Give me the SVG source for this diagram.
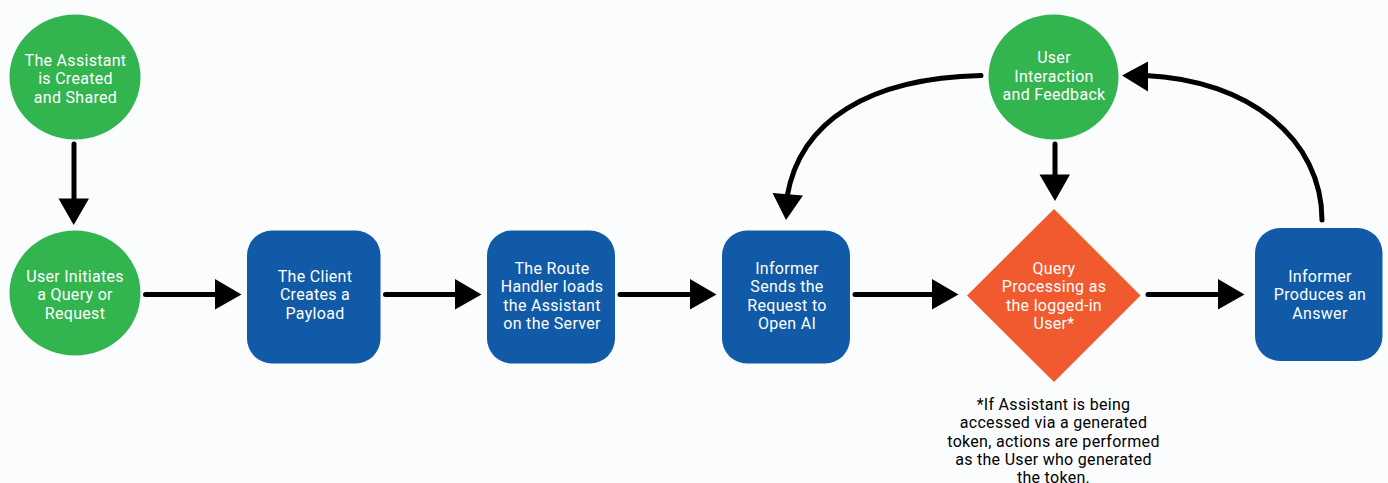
<svg xmlns="http://www.w3.org/2000/svg" width="1388" height="483" viewBox="0 0 1388 483">
<style>
.g{fill:#32b44f}.b{fill:#105aa8}.o{fill:#f15a2e}
text{font-family:Roboto,"Liberation Sans",sans-serif;font-size:16px;letter-spacing:.3px;text-anchor:middle;fill:#fff}
text.n{fill:#000}
.c{fill:none;stroke:#000;stroke-width:5;stroke-linecap:round}
</style>
<rect width="1388" height="483" fill="#fbfcfe"/>
<g id="connectors">
<path class="c" d="M74 144V200"/>
<path d="M58.500 198.500H89L73.700 225Z"/>
<path class="c" d="M145.500 294.500H218"/>
<path d="M215 279V309.500L241.500 294.500Z"/>
<path class="c" d="M385.500 294.500H458"/>
<path d="M455 279V309.500L481.500 294.500Z"/>
<path class="c" d="M620 294.500H693"/>
<path d="M690 279V309.500L716.500 294.500Z"/>
<path class="c" d="M855 294.500H936"/>
<path d="M932 279V309.500L958.500 294.500Z"/>
<path class="c" d="M1148 294.500H1222"/>
<path d="M1218 279V309.500L1244.500 294.500Z"/>
<path class="c" d="M1055 144V178"/>
<path d="M1039.500 174.500H1070L1055 201Z"/>
<path class="c" d="M981 75.500C870 78 800 120 787 197"/>
<path d="M772.500 193L803 195.500L786 220Z"/>
<path class="c" d="M1322 220C1322 140 1250 80 1145 75.500"/>
<path d="M1148 61.500V91.500L1122 75.500Z"/>
</g>
<g id="n1"><ellipse class="g" cx="75" cy="77" rx="65.500" ry="62.500"/><text x="75.500" y="65.500">The Assistant</text><text x="75.500" y="84">is Created</text><text x="75.500" y="102.500">and Shared</text></g>
<g id="n2"><ellipse class="g" cx="75" cy="293" rx="65.500" ry="62.500"/><text x="75" y="281.500">User Initiates</text><text x="75" y="300">a Query or</text><text x="75" y="318.500">Request</text></g>
<g id="n3"><rect class="b" x="247" y="230.500" width="133.500" height="133" rx="25"/><text x="315" y="281.500">The Client</text><text x="315" y="300">Creates a</text><text x="315" y="318.500">Payload</text></g>
<g id="n4"><rect class="b" x="487" y="230.500" width="128" height="133" rx="25"/><text x="552" y="273.500">The Route</text><text x="552" y="292">Handler loads</text><text x="552" y="310.500">the Assistant</text><text x="552" y="329">on the Server</text></g>
<g id="n5"><rect class="b" x="722" y="230.500" width="128" height="133" rx="25"/><text x="787" y="273.500">Informer</text><text x="787" y="292">Sends the</text><text x="787" y="310.500">Request to</text><text x="787" y="329">Open AI</text></g>
<g id="n6"><path class="o" d="M1054 209L1140.500 295.500L1054 382L967 295.500Z"/><text x="1054" y="273.500">Query</text><text x="1054" y="292">Processing as</text><text x="1054" y="310.500">the logged-in</text><text x="1054" y="329">User*</text></g>
<g id="n7"><rect class="b" x="1255" y="228" width="127.500" height="133" rx="25"/><text x="1320" y="281.500">Informer</text><text x="1320" y="300">Produces an</text><text x="1320" y="318.500">Answer</text></g>
<g id="n8"><ellipse class="g" cx="1053.500" cy="77" rx="65" ry="62.500"/><text x="1054" y="63">User</text><text x="1054" y="81.500">Interaction</text><text x="1054" y="100">and Feedback</text></g>
<g id="note"><text class="n" x="1053.500" y="409.500">*If Assistant is being</text><text class="n" x="1053.500" y="428">accessed via a generated</text><text class="n" x="1053.500" y="446.500">token, actions are performed</text><text class="n" x="1053.500" y="465">as the User who generated</text><text class="n" x="1053.500" y="483">the token.</text></g>
</svg>
